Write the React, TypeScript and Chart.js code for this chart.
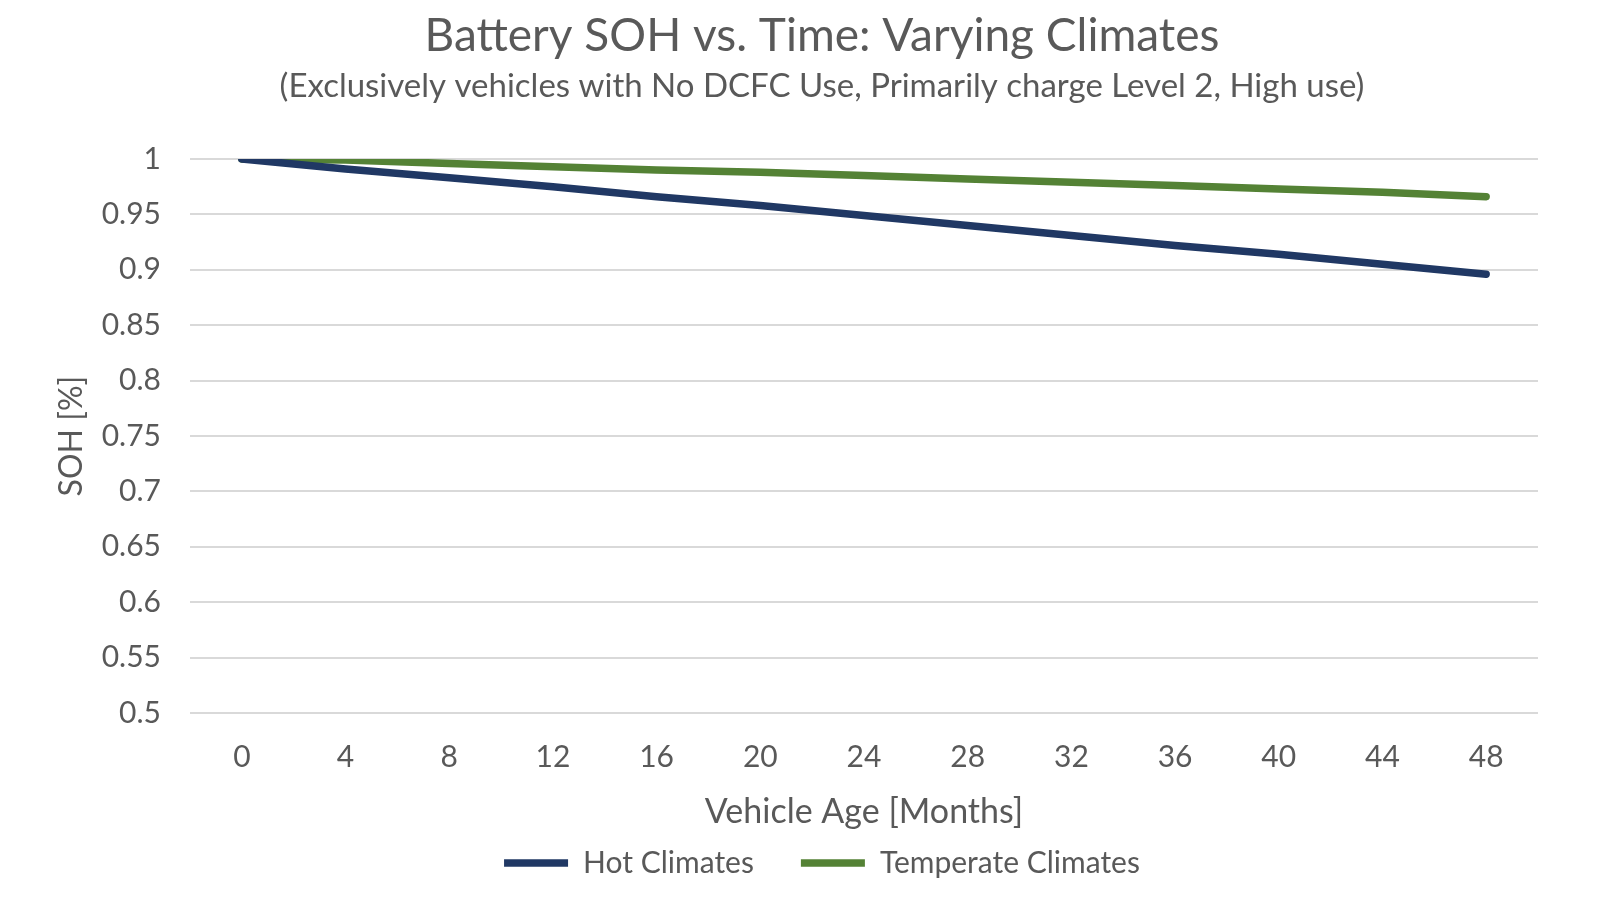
import { Chart, registerables } from 'chart.js';
import { useEffect, useRef } from 'react';

Chart.register(...registerables);

// vehicle age in months (category axis)
const ageMonths = ['0', '4', '8', '12', '16', '20', '24', '28', '32', '36', '40', '44', '48'];

const hotClimates = [1, 0.991, 0.983, 0.975, 0.966, 0.958, 0.949, 0.94, 0.931, 0.922, 0.914, 0.905, 0.896];
const temperateClimates = [1, 0.999, 0.996, 0.993, 0.99, 0.988, 0.985, 0.982, 0.979, 0.976, 0.973, 0.97, 0.966];

const seriesNames = ['Hot Climates', 'Temperate Climates'];
const seriesColors = ['#203864', '#548235'];

const FONT = 'Lato, "Open Sans", sans-serif';
const TEXT = '#595959';

export default function App() {
  const canvasRef = useRef<HTMLCanvasElement>(null);
  const chartRef = useRef<Chart | null>(null);

  useEffect(() => {
    const canvas = canvasRef.current;
    if (!canvas) {
      return undefined;
    }

    chartRef.current?.destroy();

    chartRef.current = new Chart(canvas, {
      type: 'line',
      data: {
        labels: ageMonths,
        datasets: [hotClimates, temperateClimates].map((values, i) => ({
          label: seriesNames[i],
          data: values,
          borderColor: seriesColors[i],
          backgroundColor: seriesColors[i],
          borderWidth: 7.5,
          borderCapStyle: 'round' as const,
          borderJoinStyle: 'round' as const,
          pointRadius: 0,
          tension: 0,
          yAxisID: 'y',
        })),
      },
      options: {
        animation: false,
        responsive: true,
        maintainAspectRatio: false,
        layout: {
          padding: { top: 0, left: 44, right: 0, bottom: 12 },
        },
        plugins: {
          title: {
            display: true,
            text: 'Battery SOH vs. Time: Varying Climates',
            color: TEXT,
            font: { family: FONT, size: 46, weight: 'normal' },
            padding: { top: 8.4, bottom: 0 },
          },
          subtitle: {
            display: true,
            text: '(Exclusively vehicles with No DCFC Use, Primarily charge Level 2, High use)',
            color: TEXT,
            font: { family: FONT, size: 33 },
            padding: { top: 2.6, bottom: 53.2 },
          },
          legend: {
            position: 'bottom',
            labels: {
              usePointStyle: true,
              pointStyle: 'line',
              pointStyleWidth: 64,
              color: TEXT,
              font: { family: FONT, size: 30 },
              padding: 47,
            },
          },
          tooltip: { enabled: false },
        },
        scales: {
          x: {
            offset: true,
            grid: { display: false, drawTicks: false },
            border: { display: false },
            ticks: {
              color: TEXT,
              font: { family: FONT, size: 30 },
              padding: 26,
              maxRotation: 0,
            },
            title: {
              display: true,
              text: 'Vehicle Age [Months]',
              color: TEXT,
              font: { family: FONT, size: 34 },
              padding: { top: 0, bottom: -31.4 },
            },
            afterFit: (scale) => {
              scale.height = 88;
            },
          },
          y: {
            min: 0.5,
            max: 1,
            grid: { color: '#d9d9d9', lineWidth: 2, drawTicks: false },
            border: { display: false },
            ticks: {
              stepSize: 0.05,
              color: TEXT,
              font: { family: FONT, size: 30 },
              padding: 29,
              callback: (value) => String(Math.round(Number(value) * 100) / 100),
            },
            title: {
              display: true,
              text: 'SOH [%]',
              color: TEXT,
              font: { family: FONT, size: 32 },
              padding: { top: 8.8, bottom: 0 },
            },
            afterFit: (scale) => {
              scale.width = 146;
            },
          },
          // empty right-hand axis keeps the plot area short of the right edge
          yRight: {
            position: 'right',
            display: true,
            grid: { display: false },
            border: { display: false },
            ticks: { display: false },
            afterFit: (scale) => {
              scale.width = 62;
            },
          },
        },
      },
    });

    return () => {
      chartRef.current?.destroy();
      chartRef.current = null;
    };
  }, []);

  return (
    <div style={{ position: 'fixed', left: 0, top: 0, width: 1600, height: 900, background: '#fff' }}>
      <canvas ref={canvasRef} aria-label="Battery SOH vs. Time chart" role="img" />
    </div>
  );
}
